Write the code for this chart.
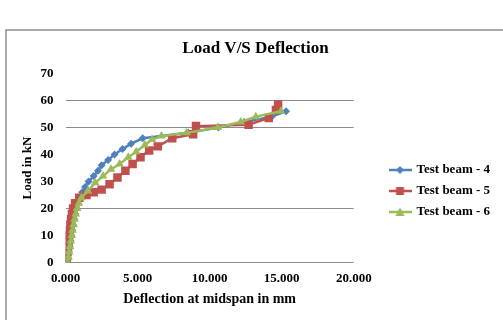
<!DOCTYPE html>
<html>
<head>
<meta charset="utf-8">
<script src="https://cdn.jsdelivr.net/npm/chart.js@4.4.1/dist/chart.umd.min.js"></script>
<style>
    html, body { margin: 0; padding: 0; background: #fff; }
    #wrap { width: 503px; height: 320px; }
</style>
</head>
<body>
<div id="wrap"><canvas id="myChart" width="503" height="320"></canvas></div>
<script>
// series values (deflection in mm, load in kN)
const beam4X = [0.10, 0.16, 0.22, 0.28, 0.34, 0.40, 0.46, 0.52, 0.60, 0.68, 0.76, 0.86, 0.98, 1.15, 1.35, 1.60, 1.95, 2.25, 2.50, 2.95, 3.40, 3.95, 4.55, 5.35, 8.50, 10.60, 12.40, 14.30, 15.30];
const beam4Y = [0, 2, 4, 6, 8, 10, 12, 14, 16, 18, 20, 22, 24, 26, 28, 30, 32, 34, 36, 38, 40, 42, 44, 46, 48, 50, 52, 54, 56];

const beam5X = [0.05, 0.09, 0.13, 0.17, 0.21, 0.25, 0.29, 0.33, 0.38, 0.44, 0.52, 0.66, 0.95, 1.45, 1.95, 2.50, 3.05, 3.60, 4.15, 4.65, 5.20, 5.80, 6.40, 7.40, 8.85, 9.05, 12.70, 14.10, 14.60, 14.75];
const beam5Y = [0, 2, 4, 6, 8, 10, 12, 14, 16, 18, 20, 22, 24, 25, 26, 27, 29, 31.5, 34, 36.5, 39, 41.5, 43, 46, 47.5, 50.5, 51, 53.5, 56.5, 58.5];

const beam6X = [0.15, 0.20, 0.25, 0.30, 0.36, 0.42, 0.48, 0.55, 0.62, 0.70, 0.80, 0.92, 1.10, 1.55, 2.05, 2.60, 3.15, 3.75, 4.35, 4.90, 5.50, 6.00, 6.65, 8.40, 10.55, 12.15, 13.20, 14.95];
const beam6Y = [0, 2, 4, 6, 8, 10, 12, 14, 16, 18, 20, 22, 24, 26.5, 29.5, 32, 34.5, 36.5, 39, 41, 43.5, 45.5, 46.8, 48, 50, 52, 54, 56];

const seriesNames = ["Test beam - 4", "Test beam - 5", "Test beam - 6"];
const hiddenGridValues = [70, 40, 30, 10]; // these lines are not visible in the picture

const blue = "#4F81BD";
const red = "#C0504D";
const green = "#9BBB59";

function toPoints(xs, ys) {
    return xs.map((x, i) => ({ x: x, y: ys[i] }));
}

// little line + marker picture for the legend, like Excel does it
function swatch(color, shape) {
    const c = document.createElement("canvas");
    c.width = 23;
    c.height = 12;
    const g = c.getContext("2d");
    g.strokeStyle = color;
    g.fillStyle = color;
    g.lineWidth = 2.5;
    g.beginPath();
    g.moveTo(0, 6);
    g.lineTo(23, 6);
    g.stroke();
    g.beginPath();
    if (shape === "diamond") {
        g.moveTo(11.5, 2); g.lineTo(15.5, 6); g.lineTo(11.5, 10); g.lineTo(7.5, 6);
    } else if (shape === "square") {
        g.rect(7.5, 2, 8, 8);
    } else {
        g.moveTo(11.5, 1.5); g.lineTo(16, 10); g.lineTo(7, 10);
    }
    g.closePath();
    g.fill();
    return c;
}

const legendImages = [swatch(blue, "diamond"), swatch(red, "square"), swatch(green, "triangle")];

const frame = {
    id: "frame",
    beforeDraw(chart) {
        const ctx = chart.ctx;
        ctx.save();
        ctx.fillStyle = "#fff";
        ctx.fillRect(0, 0, chart.width, chart.height);
        ctx.strokeStyle = "#8c8c8c";
        ctx.lineWidth = 1.5;
        ctx.strokeRect(6, 30, chart.width + 10, chart.height + 10);
        ctx.restore();
    },
    afterLayout(chart) {
        // put the legend where Excel had it
        const lg = chart.legend;
        const w = lg.width;
        const h = lg.height;
        lg.left = 382;
        lg.right = 382 + w;
        lg.top = 52;
        lg.bottom = 52 + h;
        // title sits a little right of the canvas centre
        const tb = chart.titleBlock;
        tb.left += 13;
        tb.right += 13;
    },
};

const serif = "'Liberation Serif', 'Times New Roman', serif";

const ctx = document.getElementById("myChart").getContext("2d");
const chart = new window.Chart(ctx, {
    type: "line",
    data: {
        datasets: [
            {
                label: seriesNames[0],
                data: toPoints(beam4X, beam4Y),
                borderColor: blue,
                backgroundColor: blue,
                pointStyle: "rectRot",
                pointRadius: 4,
                borderWidth: 2.5,
                order: 3,
            },
            {
                label: seriesNames[1],
                data: toPoints(beam5X, beam5Y),
                borderColor: red,
                backgroundColor: red,
                pointStyle: "rect",
                pointRadius: 6,
                borderWidth: 2.5,
                order: 2,
            },
            {
                label: seriesNames[2],
                data: toPoints(beam6X, beam6Y),
                borderColor: green,
                backgroundColor: green,
                pointStyle: "triangle",
                pointRadius: 5,
                borderWidth: 2.5,
                order: 1,
            },
        ],
    },
    options: {
        responsive: false,
        animation: false,
        events: [],
        layout: {
            padding: { left: 20, right: 38, top: 30, bottom: 12 },
        },
        elements: {
            line: { tension: 0, fill: false },
            point: { pointBorderWidth: 0, borderWidth: 0 },
        },
        plugins: {
            tooltip: { enabled: false },
            title: {
                display: true,
                text: "Load V/S Deflection",
                color: "#000",
                font: { family: serif, size: 17, weight: "bold" },
                padding: { top: 8, bottom: 15 },
            },
            legend: {
                position: "right",
                labels: {
                    usePointStyle: true,
                    pointStyleWidth: 20,
                    padding: 8,
                    color: "#000",
                    font: { family: serif, size: 13, weight: "bold" },
                    sort: (a, b) => a.datasetIndex - b.datasetIndex,
                    generateLabels: (chart) =>
                        chart.data.datasets.map((ds, i) => ({
                            text: ds.label,
                            datasetIndex: i,
                            pointStyle: legendImages[i],
                            fillStyle: ds.backgroundColor,
                            strokeStyle: ds.borderColor,
                            lineWidth: 0,
                            hidden: false,
                            fontColor: "#000",
                        })),
                },
            },
        },
        scales: {
            x: {
                type: "linear",
                min: 0,
                max: 20,
                grid: { display: false, drawTicks: false },
                border: { display: false },
                ticks: {
                    stepSize: 5,
                    padding: 8,
                    color: "#000",
                    maxRotation: 0,
                    font: { family: serif, size: 13, weight: "bold" },
                    callback: (v) => v.toFixed(3),
                },
                title: {
                    display: true,
                    text: "Deflection at midspan in mm",
                    color: "#000",
                    font: { family: serif, size: 14, weight: "bold" },
                    padding: { top: -3, bottom: 0 },
                },
            },
            y: {
                min: 0,
                max: 70,
                border: { display: false },
                grid: {
                    drawTicks: false,
                    lineWidth: 1,
                    color: (c) =>
                        hiddenGridValues.includes(c.tick.value) ? "rgba(0,0,0,0)" : "#8c8c8c",
                },
                ticks: {
                    stepSize: 10,
                    padding: 12,
                    color: "#000",
                    font: { family: serif, size: 13, weight: "bold" },
                },
                title: {
                    display: true,
                    text: "Load in kN",
                    color: "#000",
                    font: { family: serif, size: 13, weight: "bold" },
                    padding: { top: 0, bottom: -7 },
                },
            },
        },
    },
    plugins: [frame],
});
</script>
</body>
</html>
